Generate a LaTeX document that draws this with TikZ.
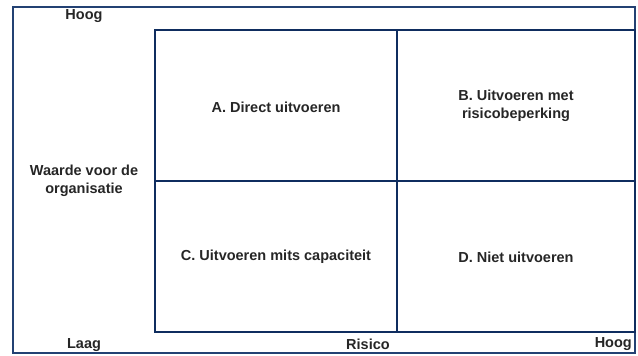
\documentclass[tikz,border=0pt]{standalone}
\usepackage{fontspec}
\setmainfont{Liberation Sans}
\usepackage{tikz}

\definecolor{framenavy}{RGB}{35,65,115}
\definecolor{gridnavy}{RGB}{15,45,95}

\begin{document}
\begin{tikzpicture}[x=1pt,y=-1pt,
    lbl/.style={font=\bfseries\fontsize{14.5}{18}\selectfont, text=black!85, align=center, inner sep=0pt}]

        \useasboundingbox (0,0) rectangle (638,356);

        \draw[framenavy, line width=2pt] (13,7) rectangle (635,353);

        \draw[gridnavy, line width=1.6pt] (155,30) rectangle (635,332);
        \draw[gridnavy, line width=1.6pt] (397,30) -- (397,332);
        \draw[gridnavy, line width=1.6pt] (155,181) -- (635,181);

        \node[lbl] (hoogy) at (84,16) {Hoog};
        \node[lbl] (waarde) at (84,181) {Waarde voor de\\organisatie};
        \node[lbl] (laag) at (84,345) {Laag};
        \node[lbl] (risico) at (368,344) {Risico};
        \node[lbl, anchor=east] (hoogx) at (632,344) {Hoog};

        \node[lbl] (qa) at (276,107) {A. Direct uitvoeren};
        \node[lbl] (qb) at (516,106) {B. Uitvoeren met\\risicobeperking};
        \node[lbl] (qc) at (276,257) {C. Uitvoeren mits capaciteit};
        \node[lbl] (qd) at (516,257) {D. Niet uitvoeren};
    \end{tikzpicture}
\end{document}
